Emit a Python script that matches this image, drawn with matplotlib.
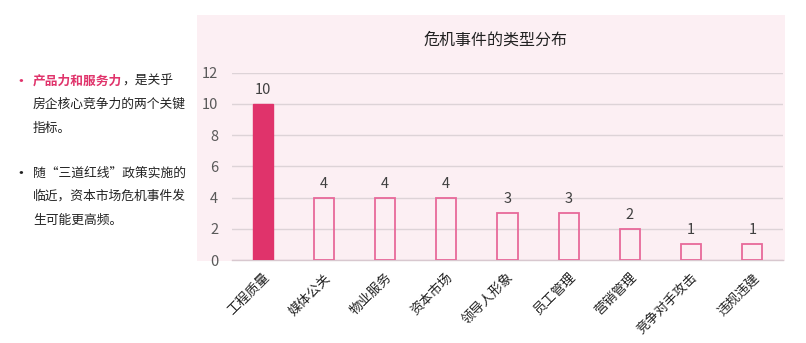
import matplotlib
matplotlib.use("Agg")
import matplotlib.pyplot as plt

plt.rcParams['font.family'] = ['Noto Sans CJK SC', 'DejaVu Sans']

categories = ["工程质量", "媒体公关", "物业服务", "资本市场", "领导人形象", "员工管理", "营销管理", "竞争对手攻击", "违规违建"]
values = [10, 4, 4, 4, 3, 3, 2, 1, 1]
yticks = [0, 2, 4, 6, 8, 10, 12]
title = "危机事件的类型分布"

PINK = "#E0336B"
EDGE = "#E8699A"
BG = "#FCEFF3"
GRID = "#DDD3D7"

W, H = 806, 343
fig = plt.figure(figsize=(W / 100, H / 100), dpi=100)
fig.patch.set_facecolor("white")

# pink panel as background axes
bg = fig.add_axes([197 / W, 1 - 261 / H, 588 / W, 246 / H], zorder=0)
bg.set_facecolor(BG)
bg.set_xticks([])
bg.set_yticks([])
for s in bg.spines.values():
    s.set_visible(False)

ax = fig.add_axes([232 / W, 1 - 260 / H, (783 - 232) / W, (260 - 72.7) / H], zorder=1)
ax.set_facecolor("none")
x = list(range(len(categories)))
for i, v in enumerate(values):
    if i == 0:
        ax.bar(i, v, width=0.33, color=PINK, edgecolor=PINK, zorder=3)
    else:
        ax.bar(i, v, width=0.33, facecolor="none", edgecolor=EDGE, linewidth=1.3, zorder=3)
    ax.text(i, v + 0.45, str(v), ha="center", va="bottom", fontsize=10.5, color="#404040")

ax.set_xlim(-0.5, len(categories) - 0.5)
ax.set_ylim(0, 12)
ax.set_yticks(yticks)
ax.set_yticklabels([str(t) for t in yticks], fontsize=10.5, color="#595959")
ax.tick_params(axis="y", length=0, pad=10)
ax.set_xticks(x)
ax.set_xticklabels(categories, rotation=45, ha="right", rotation_mode="anchor",
                   fontsize=9.5, color="#222222")
ax.tick_params(axis="x", length=0, pad=8)
ax.yaxis.grid(True, color=GRID, linewidth=1, zorder=0)
ax.set_axisbelow(True)
for s in ["top", "right", "left"]:
    ax.spines[s].set_visible(False)
ax.spines["bottom"].set_color("#D8C8CF")
ax.spines["bottom"].set_linewidth(1)

fig.text(495 / W, 1 - 40 / H, title, ha="center", va="center", fontsize=11.5, color="#222222")

# left text
tx = 33 / W
bx = 12 / W
fs = 9.2
lines_y = [81, 104.5, 128]
t1 = fig.text(tx, 1 - lines_y[0] / H, "产品力和服务力", fontsize=fs, fontweight="bold",
              color=PINK, va="center")
fig.text(bx, 1 - lines_y[0] / H, "•", fontsize=12, color=PINK, va="center")
ax.annotate("，是关乎", xy=(1, 0.5), xycoords=t1, va="center", ha="left",
            fontsize=fs, color="#222222", annotation_clip=False)
fig.text(tx, 1 - lines_y[1] / H, "房企核心竞争力的两个关键", fontsize=fs, color="#222222", va="center")
fig.text(tx, 1 - lines_y[2] / H, "指标。", fontsize=fs, color="#222222", va="center")

lines2 = ["随“三道红线”政策实施的", "临近，资本市场危机事件发", "生可能更高频。"]
ys2 = [173, 196.5, 220]
fig.text(bx, 1 - ys2[0] / H, "•", fontsize=12, color="#222222", va="center")
for s, yy in zip(lines2, ys2):
    fig.text(tx, 1 - yy / H, s, fontsize=fs, color="#222222", va="center")

fig.savefig("out.png", dpi=100)
